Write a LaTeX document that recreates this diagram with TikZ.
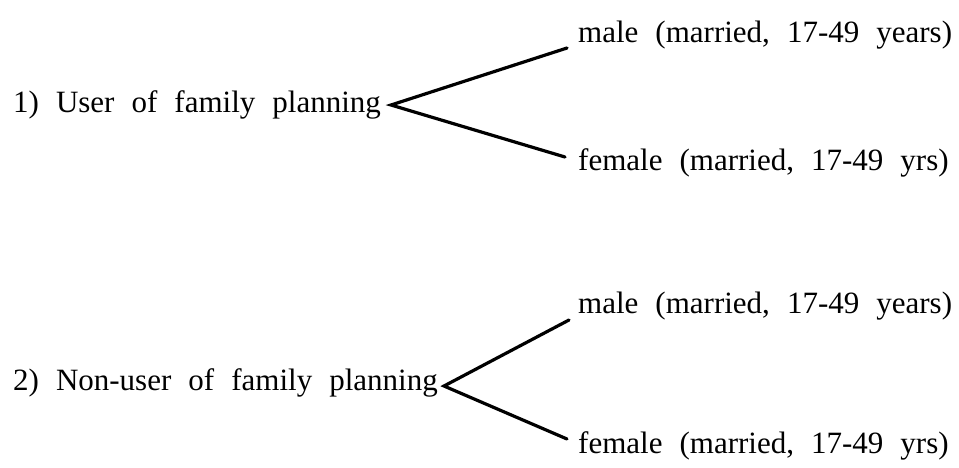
\documentclass[tikz,border=0pt]{standalone}
\usepackage{fontspec}
\setmainfont[WordSpace=2.2]{Liberation Serif}
\usetikzlibrary{positioning}
\tikzset{%
  branch/.style = {line width=3.2pt, line cap=round, line join=miter},
  lbl/.style = {inner sep=0pt, anchor=base west,
        font=\fontsize{31}{36}\selectfont}
}

\begin{document}
\begin{tikzpicture}[x=1pt,y=-1pt]
    \useasboundingbox (0,0) rectangle (959,467);
    % users
    \node[lbl] (user) at (13,112) {1) User of family planning};
    \node[lbl] (usermale) at (578,42) {male (married, 17-49 years)};
    \node[lbl] (userfemale) at (578,170) {female (married, 17-49 yrs)};
    \coordinate (userfork) at (391,105);
    \coordinate (usertop) at (567,48);
    \coordinate (userbot) at (565,157);
    \draw[branch] (usertop) -- (userfork) -- (userbot);
    % non-users
    \node[lbl] (nonuser) at (13,390) {2) Non-user of family planning};
    \node[lbl] (nonusermale) at (578,313) {male (married, 17-49 years)};
    \node[lbl] (nonuserfemale) at (578,453) {female (married, 17-49 yrs)};
    \coordinate (nonuserfork) at (444,386);
    \coordinate (nonusertop) at (569,320);
    \coordinate (nonuserbot) at (567,439);
    \draw[branch] (nonusertop) -- (nonuserfork) -- (nonuserbot);
\end{tikzpicture}
\end{document}
